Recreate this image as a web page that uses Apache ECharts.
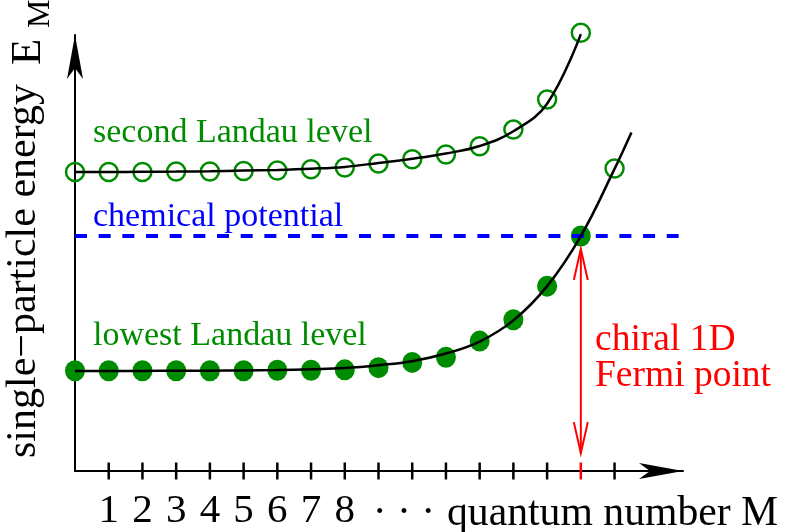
<!DOCTYPE html>
<html>
<head>
<meta charset="utf-8">
<script src="https://cdn.jsdelivr.net/npm/echarts@6/dist/echarts.min.js"></script>
<style>
html,body{margin:0;padding:0;background:#fff;}
#chart{width:785px;height:532px;}
</style>
</head>
<body>
<div id="chart"></div>
<script>
// ---- data (energy in arbitrary units) ----
const quantumNumbers = [0,1,2,3,4,5,6,7,8,9,10,11,12,13,14,15];
// open circles: second Landau level
const secondLevel = [6.86,6.86,6.86,6.87,6.87,6.88,6.89,6.92,6.96,7.05,7.15,7.26,7.45,7.83,8.52,10.05];
// filled dots: lowest Landau level (occupied)
const lowestLevel = [2.30,2.30,2.30,2.30,2.30,2.30,2.31,2.31,2.32,2.37,2.49,2.61,2.98,3.47,4.24,5.39];
// open circle: lowest Landau level above the chemical potential
const lowestEmptyM = [16];
const lowestEmpty = [6.94];
// black curves
const secondCurveM = [0,1,2,3,4,5,6,7,8,9,10,11,12,13,14,15];
const secondCurve = [6.856,6.858,6.862,6.868,6.877,6.890,6.906,6.933,6.975,7.066,7.162,7.283,7.454,7.792,8.425,10.02];
const lowestCurveM = [0,1,2,3,4,5,6,7,8,9,10,11,12,13,14,15,16,16.5];
const lowestCurve = [2.295,2.295,2.296,2.298,2.301,2.307,2.317,2.335,2.363,2.427,2.518,2.694,2.968,3.454,4.240,5.388,6.929,7.763];
const chemicalPotential = 5.39;
const chemicalRange = [0, 17.9];
const fermiM = 15;
const fermiArrow = [5.09, 0.41];
const tickPositions = [1,2,3,4,5,6,7,8,9,10,11,12,13,14,15,16];
const tickLabels = ['1','2','3','4','5','6','7','8'];

const GREEN = '#008c00';
const FONT = 'Liberation Serif';

const pts = (xs, ys) => xs.map((x,i)=>[x, ys[i]]);

const chart = echarts.init(document.getElementById('chart'), null, {renderer:'canvas'});
chart.setOption({
  animation: false,
  backgroundColor: '#fff',
  grid: {left: 75, top: 35, width: 608, height: 438},
  xAxis: {
    type: 'value', min: 0, max: 18.03, interval: 1,
    axisLine: {show: true, lineStyle: {color: '#000', width: 2}, symbol: ['none','arrow'], symbolSize: [12, 44]},
    axisTick: {show: false},
    splitLine: {show: false},
    axisLabel: {
      margin: 20, color: '#000', fontFamily: FONT, fontSize: 41,
      showMaxLabel: false,
      formatter: v => (v >= 1 && v <= tickLabels.length && Number.isInteger(v)) ? tickLabels[v-1] : ''
    }
  },
  yAxis: {
    type: 'value', min: 0, max: 10,
    axisLine: {show: true, lineStyle: {color: '#000', width: 2}, symbol: ['none','arrow'], symbolSize: [12, 44]},
    axisTick: {show: false}, axisLabel: {show: false}, splitLine: {show: false}
  },
  series: [
    { // ticks on the M axis
      type: 'scatter', clip: false, z: 3, silent: true,
      symbol: 'rect', symbolSize: [2.5, 17],
      data: tickPositions.map(m => ({value: [m, 0], itemStyle: {color: m === fermiM ? '#ff0000' : '#000', opacity: 1}}))
    },
    { // occupied lowest-level states
      type: 'scatter', clip: false, z: 4, silent: true,
      symbol: 'circle', symbolSize: [20, 21],
      itemStyle: {color: GREEN, opacity: 1},
      data: pts(quantumNumbers, lowestLevel)
    },
    { // chemical potential
      type: 'line', clip: false, z: 5, silent: true, symbol: 'none',
      lineStyle: {color: '#0000ff', width: 4, type: [12, 11.67]},
      data: chemicalRange.map(x => [x, chemicalPotential])
    },
    { // empty states: second level + lowest above mu
      type: 'scatter', clip: false, z: 4, silent: true,
      symbol: 'circle', symbolSize: 18,
      itemStyle: {color: 'rgba(0,0,0,0)', borderColor: GREEN, borderWidth: 2.5, opacity: 1},
      data: pts(quantumNumbers, secondLevel).concat(pts(lowestEmptyM, lowestEmpty))
    },
    { // second level curve
      type: 'line', clip: false, z: 6, silent: true, symbol: 'none',
      smooth: 0.4,
      lineStyle: {color: '#000', width: 2.5},
      data: pts(secondCurveM, secondCurve)
    },
    { // lowest level curve
      type: 'line', clip: false, z: 6, silent: true, symbol: 'none',
      smooth: 0.4,
      lineStyle: {color: '#000', width: 2.5},
      data: pts(lowestCurveM, lowestCurve)
    },
    { // red double arrow at the Fermi point
      type: 'custom', clip: false, z: 5, silent: true,
      data: [[fermiM, fermiArrow[0], fermiArrow[1]]],
      encode: {x: 0, y: [1, 2]},
      renderItem: function (params, api) {
        const t = api.coord([api.value(0), api.value(1)]);
        const b = api.coord([api.value(0), api.value(2)]);
        const L = 31, W = 7;
        const st = {stroke: '#ff0000', lineWidth: 2, fill: null};
        return {type: 'group', children: [
          {type: 'line', shape: {x1: t[0], y1: t[1], x2: b[0], y2: b[1]}, style: st},
          {type: 'polyline', shape: {points: [[t[0]-W, t[1]+L], [t[0], t[1]], [t[0]+W, t[1]+L]]}, style: st},
          {type: 'polyline', shape: {points: [[b[0]-W, b[1]-L], [b[0], b[1]], [b[0]+W, b[1]-L]]}, style: st}
        ]};
      }
    }
  ],
  graphic: [
    {type: 'text', x: 93, y: 133.5, style: {text: 'second Landau level', fontSize: 34, fontFamily: FONT, fill: GREEN, align: 'left', verticalAlign: 'middle'}},
    {type: 'text', x: 93, y: 217.5, style: {text: 'chemical potential', fontSize: 34, fontFamily: FONT, fill: '#0000ff', align: 'left', verticalAlign: 'middle'}},
    {type: 'text', x: 93, y: 336.5, style: {text: 'lowest Landau level', fontSize: 34, fontFamily: FONT, fill: GREEN, align: 'left', verticalAlign: 'middle'}},
    {type: 'text', x: 595, y: 340.3, style: {text: 'chiral 1D', fontSize: 37.5, fontFamily: FONT, fill: '#ff0000', align: 'left', verticalAlign: 'middle'}},
    {type: 'text', x: 595, y: 375.9, style: {text: 'Fermi point', fontSize: 37.5, fontFamily: FONT, fill: '#ff0000', align: 'left', verticalAlign: 'middle'}},
    {type: 'text', x: 404, y: 514.5, style: {text: '· · ·', fontSize: 41.7, fontFamily: FONT, fill: '#000', align: 'center', verticalAlign: 'middle'}},
    {type: 'text', x: 447, y: 514.5, style: {text: 'quantum number M', fontSize: 41.7, fontFamily: FONT, fill: '#000', align: 'left', verticalAlign: 'middle'}},
    {type: 'text', x: 24.2, y: 458, rotation: Math.PI/2, style: {text: 'single\u2212particle energy', fontSize: 42, fontFamily: FONT, fill: '#000', align: 'left', verticalAlign: 'middle'}},
    {type: 'text', x: 28.6, y: 65, rotation: Math.PI/2, style: {text: 'E', fontSize: 43, fontFamily: FONT, fill: '#000', align: 'left', verticalAlign: 'middle'}},
    {type: 'text', x: 40.2, y: 28, rotation: Math.PI/2, style: {text: 'M', fontSize: 32, fontFamily: FONT, fill: '#000', align: 'left', verticalAlign: 'middle'}}
  ]
});
</script>
</body>
</html>
